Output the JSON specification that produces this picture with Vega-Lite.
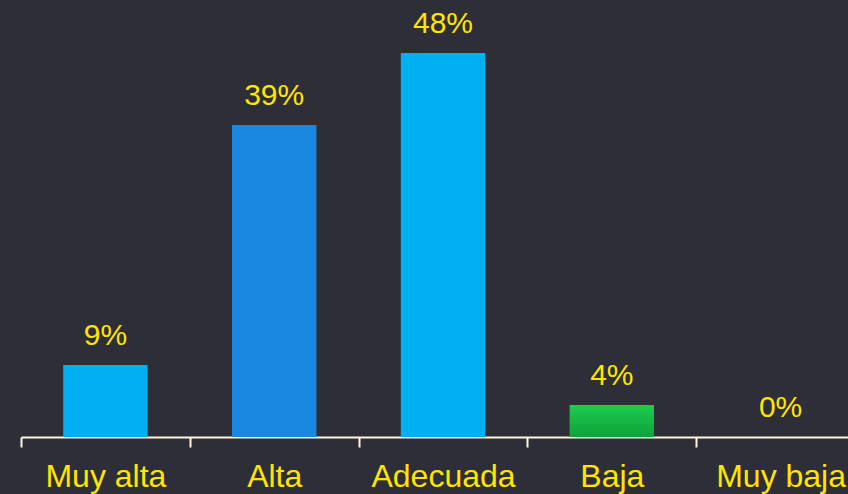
{
  "$schema": "https://vega.github.io/schema/vega-lite/v6.json",
  "autosize": {"type": "none"},
  "width": 827,
  "height": 437,
  "padding": {"left": 21, "top": 0, "right": 0, "bottom": 57},
  "background": "#2e2e38",
  "config": {"view": {"stroke": null}},
  "data": {"values": [
    {"cat": "Muy alta", "pct": 9, "label": "9%", "grp": "a"},
    {"cat": "Alta", "pct": 39, "label": "39%", "grp": "b"},
    {"cat": "Adecuada", "pct": 48, "label": "48%", "grp": "a"},
    {"cat": "Baja", "pct": 4, "label": "4%", "grp": "g"},
    {"cat": "Muy baja", "pct": 0, "label": "0%", "grp": "z"}
  ]},
  "encoding": {
    "x": {
      "field": "cat", "type": "nominal",
      "sort": ["Muy alta", "Alta", "Adecuada", "Baja", "Muy baja"],
      "scale": {"domain": ["Muy alta", "Alta", "Adecuada", "Baja", "Muy baja"], "range": [0, 844], "paddingInner": 0, "paddingOuter": 0},
      "axis": {
        "title": null, "labelAngle": 0, "labelFont": "Liberation Sans", "labelFontSize": 32,
        "labelColor": "#ffe500", "domainColor": "#fff8dc", "domainWidth": 2,
        "tickColor": "#fff8dc", "tickWidth": 2, "tickSize": 10, "tickBand": "extent",
        "labelPadding": 14, "labelBaseline": "top"
      }
    },
    "y": {
      "field": "pct", "type": "quantitative",
      "scale": {"domain": [0, 54.625], "nice": false, "zero": true},
      "axis": null
    }
  },
  "layer": [
    {
      "transform": [{"filter": "datum.grp != 'g'"}],
      "mark": {"type": "bar", "width": {"band": 0.5}},
      "encoding": {
        "color": {
          "field": "grp", "type": "nominal",
          "scale": {"domain": ["a", "b", "z"], "range": ["#00b0f0", "#1a87e0", "#00b0f0"]},
          "legend": null
        }
      }
    },
    {
      "transform": [{"filter": "datum.grp == 'g'"}],
      "mark": {
        "type": "bar", "width": {"band": 0.5},
        "color": {
          "gradient": "linear", "x1": 0, "y1": 0, "x2": 0, "y2": 1,
          "stops": [{"offset": 0, "color": "#1ccd4c"}, {"offset": 1, "color": "#10a03c"}]
        }
      }
    },
    {
      "mark": {"type": "text", "font": "Liberation Sans", "fontSize": 30, "color": "#ffe500", "dy": -20, "baseline": "alphabetic"},
      "encoding": {"text": {"field": "label"}}
    }
  ]
}
